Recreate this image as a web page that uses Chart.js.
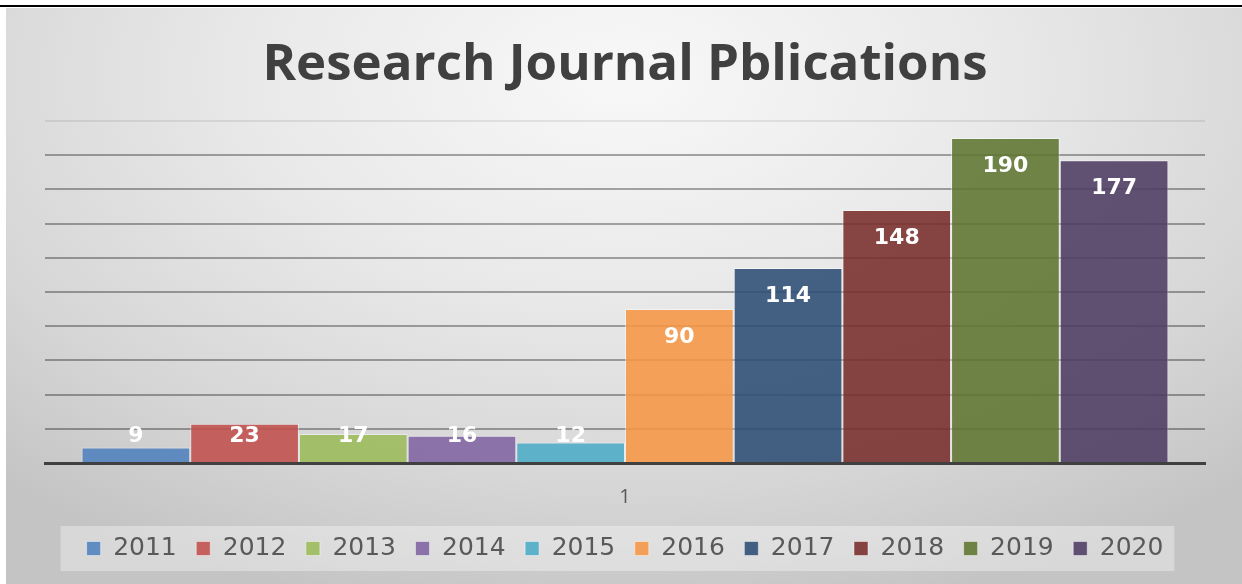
<!DOCTYPE html>
<html>
<head>
<meta charset="utf-8">
<script src="https://cdn.jsdelivr.net/npm/chart.js@4.4.1/dist/chart.umd.min.js"></script>
<style>
  html, body { margin: 0; padding: 0; background: #fff; }
  body { width: 1242px; height: 584px; position: relative; overflow: hidden; }
  #topline { position: absolute; left: 0; top: 5px; width: 1242px; height: 2px; background: #000; }
  #panel {
    position: absolute; left: 6px; top: 8px; width: 1236px; height: 576px;
    background: radial-gradient(ellipse 75% 95% at 50% 12%, #f8f8f8 0%, #e9e9e9 40%, #d6d6d6 75%, #c4c4c4 100%);
  }
</style>
</head>
<body>
<div id="topline"></div>
<div id="panel"><canvas id="chart" width="1236" height="576"></canvas></div>
<script>
// ---- data ----
const categories = ['1'];
const years = ['2011', '2012', '2013', '2014', '2015', '2016', '2017', '2018', '2019', '2020'];
const publications = [9, 23, 17, 16, 12, 90, 114, 148, 190, 177];
const yTicks = [0, 20, 40, 60, 80, 100, 120, 140, 160, 180, 200];

// office style palette, a little see-through so the gridlines show in the bars
const colors = [
  'rgba(79,129,189,0.88)', 'rgba(192,80,77,0.88)', 'rgba(155,187,89,0.88)',
  'rgba(128,100,162,0.88)', 'rgba(75,172,198,0.88)', 'rgba(247,150,70,0.88)',
  'rgba(44,77,117,0.88)', 'rgba(119,44,42,0.88)', 'rgba(95,117,48,0.88)',
  'rgba(77,59,98,0.88)'
];

// white value labels near the top of each bar
const valueLabels = {
  id: 'valueLabels',
  afterDatasetsDraw(chart) {
    const ctx = chart.ctx;
    ctx.save();
    ctx.font = 'bold 22px "DejaVu Sans"';
    ctx.fillStyle = '#ffffff';
    ctx.textAlign = 'center';
    ctx.textBaseline = 'middle';
    chart.data.datasets.forEach((ds, i) => {
      chart.getDatasetMeta(i).data.forEach((bar, j) => {
        const y = Math.min(bar.y + 28, bar.base - 26);
        ctx.fillText(String(ds.data[j]), bar.x, y);
      });
    });
    ctx.restore();
  }
};

// pale band behind the legend
const legendBand = {
  id: 'legendBand',
  beforeDraw(chart) {
    const boxes = chart.legend && chart.legend.legendHitBoxes;
    if (!boxes || !boxes.length) return;
    const first = boxes[0], last = boxes[boxes.length - 1];
    const ctx = chart.ctx;
    ctx.save();
    ctx.fillStyle = 'rgba(255,255,255,0.35)';
    const left = first.left - 26;
    const right = last.left + last.width + 11;
    ctx.fillRect(left, first.top - 10, right - left, 45);
    ctx.restore();
  }
};

const ctx = document.getElementById('chart').getContext('2d');
new Chart(ctx, {
  type: 'bar',
  data: {
    labels: categories,
    datasets: years.map((y, i) => ({
      label: y,
      data: [publications[i]],
      backgroundColor: colors[i],
      borderColor: 'rgba(255,255,255,0.45)',
      borderWidth: 1,
      categoryPercentage: 0.937,
      barPercentage: 1.0
    }))
  },
  options: {
    responsive: false,
    animation: false,
    events: [],
    layout: { padding: { left: 39, right: 37, top: 0, bottom: 13 } },
    plugins: {
      title: {
        display: true,
        text: 'Research Journal Pblications',
        color: '#404040',
        font: { family: '"Open Sans"', size: 51, weight: 'bold', lineHeight: 1.2 },
        padding: { top: 27, bottom: 24.8 }
      },
      legend: {
        position: 'bottom',
        labels: {
          color: '#595959',
          font: { family: '"DejaVu Sans"', size: 25 },
          boxWidth: 14,
          boxHeight: 14,
          padding: 19.5
        }
      },
      tooltip: { enabled: false }
    },
    scales: {
      x: {
        z: 1,
        afterFit(scale) { scale.height = 53.5; },
        grid: { display: false },
        border: { display: true, color: '#404040', width: 3 },
        ticks: { color: '#595959', font: { family: '"Open Sans"', size: 20 }, padding: 14 }
      },
      y: {
        min: 0,
        max: 200,
        afterBuildTicks(scale) { scale.ticks = yTicks.map(v => ({ value: v })); },
        afterFit(scale) { scale.width = 0; },
        ticks: { display: false },
        border: { display: false },
        grid: {
          drawTicks: false,
          lineWidth: 2,
          color: c => c.tick && c.tick.value === 200 ? 'rgba(0,0,0,0.08)' : 'rgba(0,0,0,0.33)'
        }
      }
    }
  },
  plugins: [legendBand, valueLabels]
});
</script>
</body>
</html>
